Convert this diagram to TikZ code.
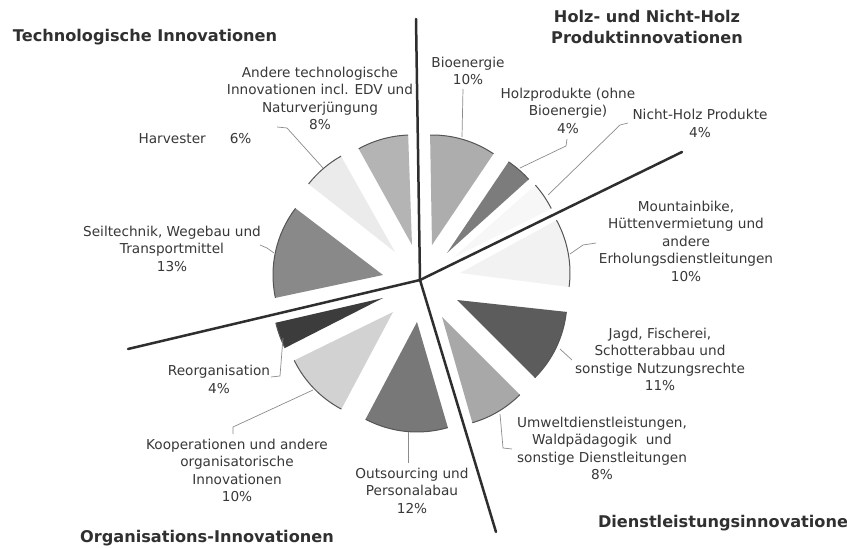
\documentclass[tikz,border=0pt]{standalone}
\usepackage{fontspec}
\setmainfont{DejaVu Sans}
\usetikzlibrary{calc}
\definecolor{txt}{HTML}{383838}
\definecolor{ttlc}{HTML}{303030}
\definecolor{divc}{HTML}{2E2E2E}
\definecolor{rimc}{HTML}{555555}
\definecolor{leadc}{HTML}{8C8C8C}
\definecolor{cBio}{HTML}{ADADAD}
\definecolor{cHolz}{HTML}{7C7C7C}
\definecolor{cNH}{HTML}{F7F7F7}
\definecolor{cMtb}{HTML}{F2F2F2}
\definecolor{cJagd}{HTML}{5C5C5C}
\definecolor{cUmw}{HTML}{A8A8A8}
\definecolor{cOut}{HTML}{787878}
\definecolor{cKoop}{HTML}{D2D2D2}
\definecolor{cReorg}{HTML}{3C3C3C}
\definecolor{cSeil}{HTML}{898989}
\definecolor{cHarv}{HTML}{EBEBEB}
\definecolor{cAnd}{HTML}{B4B4B4}
\newcommand{\myslice}[5]{%
  \coordinate (#1) at #2;
  \fill[#5] (#1) -- ++(#3:110bp) arc[start angle=#3, end angle=#4, radius=110bp] -- cycle;
  \draw[rim] (#1) ++(#3:110bp) arc[start angle=#3, end angle=#4, radius=110bp];
}
\begin{document}
\begin{tikzpicture}[x=1bp,y=-1bp,
  lbl/.style={align=center, text=txt, font=\fontsize{13.7}{17.6}\selectfont, inner sep=0pt},
  ttl/.style={align=center, text=ttlc, font=\bfseries\fontsize{16.2}{21}\selectfont, inner sep=0pt},
  leader/.style={draw=leadc, line width=0.7bp},
  divider/.style={draw=divc, line width=2.5bp, line cap=round},
  rim/.style={draw=rimc, line width=1bp}]
\useasboundingbox[fill=white] (0,0) rectangle (847,549);

% slices
\myslice{bio}{(432,245)}{56}{91}{cBio}
\myslice{holz}{(447,253)}{42}{56}{cHolz}
\myslice{nh}{(453,258)}{26.7}{41.5}{cNH}
\myslice{mtb}{(460,273)}{-7.3}{28.7}{cMtb}
\myslice{jagd}{(457,300)}{-45}{-6.2}{cJagd}
\myslice{umw}{(442,317)}{-74}{-45}{cUmw}
\myslice{out}{(417,322)}{-117.9}{-73.7}{cOut}
\myslice{koop}{(393,312)}{-153.9}{-118}{cKoop}
\myslice{reorg}{(383,298)}{-167}{-153}{cReorg}
\myslice{seil}{(383,275)}{142.7}{192}{cSeil}
\myslice{harv}{(395,252)}{119.4}{141.8}{cHarv}
\myslice{and}{(412,245)}{92}{119}{cAnd}

% dividing lines
\coordinate (ctr) at (420,280);
\coordinate (dtop) at (416,19);
\coordinate (dright) at (682,152);
\coordinate (dleft) at (128,349);
\coordinate (dbot) at (496,532);
\draw[divider] (ctr) -- (dtop);
\draw[divider] (ctr) -- (dright);
\draw[divider] (ctr) -- (dleft);
\draw[divider] (ctr) -- (dbot);

% titles
\node[ttl] (tTech) at (145,37) {Technologische Innovationen};
\node[ttl] (tHolz) at (647,27) {Holz- und Nicht-Holz\\Produktinnovationen};
\node[ttl] (tOrg) at (207,538) {Organisations-Innovationen};
\node[ttl] (tDienst) at (723,523) {Dienstleistungsinnovatione};

% labels
\node[lbl] (lAnd) at (320,98.5) {Andere technologische\\Innovationen incl. EDV und\\Naturverjüngung\\8\%};
\node[lbl] (lHarv) at (195,139) {Harvester\hspace{24bp}6\%};
\node[lbl] (lSeil) at (172,248.5) {Seiltechnik, Wegebau und\\Transportmittel\\13\%};
\node[lbl] (lBio) at (468,71) {Bioenergie\\10\%};
\node[lbl] (lHolz) at (568,110.5) {Holzprodukte (ohne\\Bioenergie)\\4\%};
\node[lbl] (lNH) at (700,123.5) {Nicht-Holz Produkte\\4\%};
\node[lbl] (lMtb) at (686,241) {Mountainbike,\\Hüttenvermietung und\\andere\\Erholungsdienstleitungen\\10\%};
\node[lbl] (lJagd) at (660,359.5) {Jagd, Fischerei,\\Schotterabbau und\\sonstige Nutzungsrechte\\11\%};
\node[lbl] (lUmw) at (602,448.5) {Umweltdienstleistungen,\\Waldpädagogik\ \ und\\sonstige Dienstleitungen\\8\%};
\node[lbl] (lOut) at (412,490.5) {Outsourcing und\\Personalabau\\12\%};
\node[lbl] (lKoop) at (237,470.5) {Kooperationen und andere\\organisatorische\\Innovationen\\10\%};
\node[lbl] (lReorg) at (219,379.5) {Reorganisation\\4\%};

% leader lines
\coordinate (aBio1) at (463,89);  \coordinate (aBio2) at (462,137);
\draw[leader] (aBio1) -- (aBio2);
\coordinate (aHolz1) at (567,139); \coordinate (aHolz2) at (566,146); \coordinate (aHolz3) at (520,168);
\draw[leader] (aHolz1) -- (aHolz2) -- (aHolz3);
\coordinate (aNH1) at (628,123); \coordinate (aNH2) at (620,125); \coordinate (aNH3) at (548,195);
\draw[leader] (aNH1) -- (aNH2) -- (aNH3);
\coordinate (aMtb1) at (596,243); \coordinate (aMtb2) at (583,245); \coordinate (aMtb3) at (570,254);
\draw[leader] (aMtb1) -- (aMtb2) -- (aMtb3);
\coordinate (aJagd1) at (572,360); \coordinate (aJagd2) at (560,349);
\draw[leader] (aJagd1) -- (aJagd2);
\coordinate (aUmw1) at (500,414); \coordinate (aUmw2) at (503,448); \coordinate (aUmw3) at (512,449);
\draw[leader] (aUmw1) -- (aUmw2) -- (aUmw3);
\coordinate (aOut1) at (408,432); \coordinate (aOut2) at (408,463);
\draw[leader] (aOut1) -- (aOut2);
\coordinate (aKoop1) at (313,390); \coordinate (aKoop2) at (233,427); \coordinate (aKoop3) at (233,434);
\draw[leader] (aKoop1) -- (aKoop2) -- (aKoop3);
\coordinate (aReorg1) at (283,338); \coordinate (aReorg2) at (280,376); \coordinate (aReorg3) at (271,377);
\draw[leader] (aReorg1) -- (aReorg2) -- (aReorg3);
\coordinate (aSeil1) at (260,245); \coordinate (aSeil2) at (267,248); \coordinate (aSeil3) at (274,253);
\draw[leader] (aSeil1) -- (aSeil2) -- (aSeil3);
\coordinate (aAnd1) at (277,127); \coordinate (aAnd2) at (287,128); \coordinate (aAnd3) at (323,168);
\draw[leader] (aAnd1) -- (aAnd2) -- (aAnd3);
\end{tikzpicture}
\end{document}
